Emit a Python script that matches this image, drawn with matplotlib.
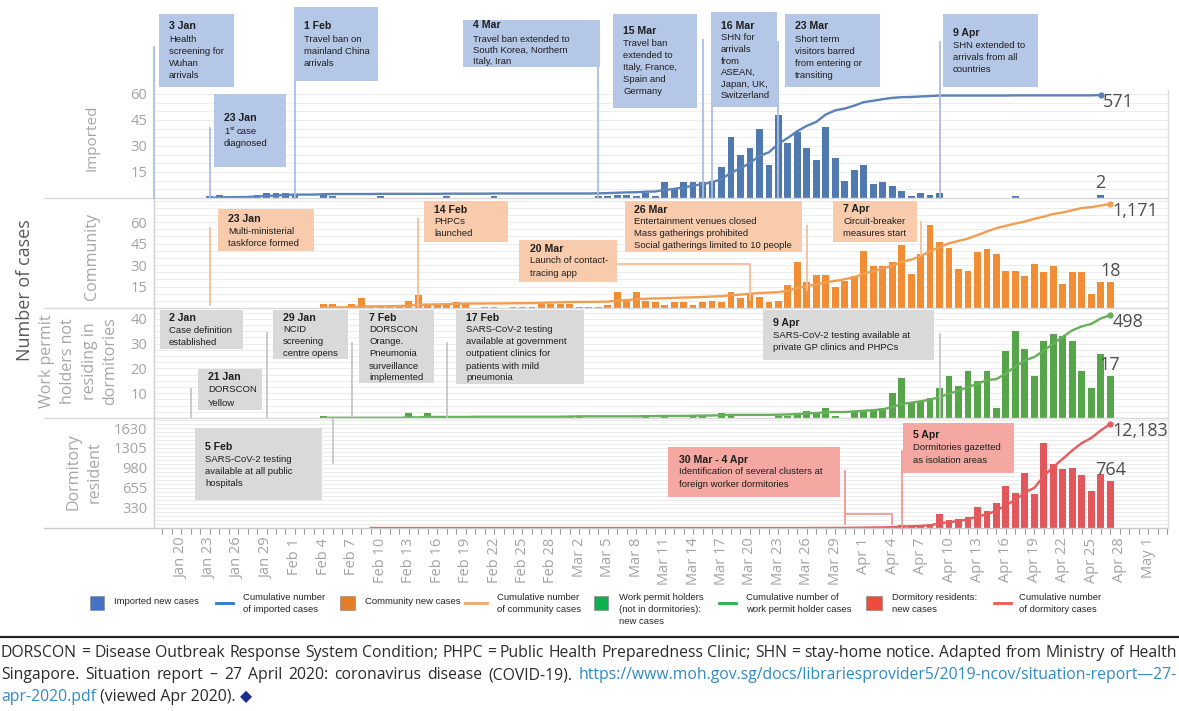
import numpy as np
import pandas as pd
import matplotlib
matplotlib.use('Agg')
import matplotlib.pyplot as plt
import matplotlib.dates as mdates
from matplotlib.patches import Rectangle
from matplotlib.lines import Line2D

# ---------------- data ----------------
imported_start = '2020-01-23'
imported_new = [
    1, 2, 1, 1, 1, 2, 3, 3, 3,                                   # Jan 23-31
    2, 0, 0, 2, 1, 0, 0, 0, 0, 1, 0, 0, 0, 0, 0, 0, 1, 0, 0, 0,  # Feb 1-20
    0, 1, 0, 0, 0, 0, 0, 0, 0,                                   # Feb 21-29
    0, 0, 0, 1, 1, 2, 2, 1, 3, 1, 9, 5, 9, 9, 9, 10,             # Mar 1-16
    18, 35, 25, 29, 40, 19, 48, 32, 38, 29, 22, 41, 23, 10, 16,  # Mar 17-31
    19, 8, 9, 7, 4, 1, 3, 2, 3, 0, 0, 0, 0, 0, 0, 0, 1,          # Apr 1-17
    0, 0, 0, 0, 0, 0, 0, 0, 2,                                   # Apr 18-26
]

community_start = '2020-02-04'
community_new = [
    3, 3, 1, 3, 7, 1, 1, 1, 2, 5, 9, 3, 2, 2, 4, 3, 0,           # Feb 4-20
    1, 1, 0, 1, 1, 1, 3, 3, 3,                                   # Feb 21-29
    3, 1, 1, 1, 2, 11, 5, 11, 5, 4, 2, 4, 4, 2, 4, 5,            # Mar 1-16
    4, 11, 7, 10, 8, 4, 5, 16, 32, 18, 23, 23, 15, 19, 22,       # Mar 17-31
    40, 29, 29, 32, 44, 24, 38, 58, 46, 42, 27, 26, 39, 41, 38,  # Apr 1-15
    26, 26, 22, 31, 25, 29, 17, 25, 25, 10, 18, 18,              # Apr 16-27
]

workpermit_start = '2020-02-04'
workpermit_new = [
    1, 0, 0, 0, 0, 0, 0, 0, 0, 2, 0, 2, 0, 0, 0, 0, 1,           # Feb 4-20
    0, 0, 0, 0, 0, 0, 0, 0, 0,                                   # Feb 21-29
    1, 1, 0, 0, 0, 0, 0, 0, 1, 0, 1, 0, 0, 1, 1, 0,              # Mar 1-16
    2, 1, 0, 0, 0, 0, 1, 1, 2, 3, 2, 4, 1, 0, 3,                 # Mar 17-31
    3, 3, 4, 10, 16, 6, 7, 8, 12, 17, 13, 19, 15, 19, 4,         # Apr 1-15
    27, 35, 28, 17, 31, 34, 33, 31, 19, 12, 26, 17,              # Apr 16-27
]

dormitory_start = '2020-02-09'
dormitory_new = [
    0, 0, 0, 0, 0, 0, 0, 0, 0, 0, 0,                             # Feb 9-19
    0, 0, 0, 0, 0, 0, 0, 0, 0, 0,                                # Feb 20-29
    0, 0, 0, 0, 0, 0, 0, 0, 0, 0, 0, 0, 0,                       # Mar 1-13
    0, 0, 0, 0, 0, 0, 0, 0, 0, 0, 0, 0,                          # Mar 14-25
    2, 3, 4, 5, 7, 9,                                            # Mar 26-31
    10, 15, 20, 30, 45, 45, 55, 65, 233, 130, 141, 184, 336, 271, 401,  # Apr 1-15
    689, 564, 900, 547, 1390, 1041, 965, 976, 862, 596, 878, 764,       # Apr 16-27
]

imported_yticks = [15, 30, 45, 60]
community_yticks = [15, 30, 45, 60]
workpermit_yticks = [10, 20, 30, 40]
dormitory_yticks = [330, 655, 980, 1305, 1630]

panel_labels = ['Imported', 'Community',
                'Work permit\nholders not\nresiding in\ndormitories',
                'Dormitory\nresident']

xtick_first, xtick_last = '2020-01-20', '2020-05-01'

# ---------------- figure ----------------
W, H = 1179, 711
plt.rcParams['font.family'] = ['Open Sans', 'DejaVu Sans']
BOXF = ['Liberation Sans', 'DejaVu Sans']
fig = plt.figure(figsize=(W / 100, H / 100), dpi=100)
fig.patch.set_facecolor('white')


def fx(x):
    return x / W


def fy(y):
    return 1 - y / H


def ftext(x, y, s, **kw):
    return fig.text(fx(x), fy(y), s, **kw)


def fline(xs, ys, **kw):
    fig.add_artist(Line2D([fx(v) for v in xs], [fy(v) for v in ys],
                          transform=fig.transFigure, **kw))


AX_L, AX_R = 154, 1168
day0 = mdates.date2num(pd.Timestamp('2020-01-20'))
XLIM = (day0 - 2.87, day0 + 104.1)


def date_px(d):
    n = max(mdates.date2num(pd.Timestamp(d)), XLIM[0])
    return AX_L + (n - XLIM[0]) / (XLIM[1] - XLIM[0]) * (AX_R - AX_L)


panels = [
    dict(start=imported_start, vals=imported_new, top=90, bot=198, ymax=62.3, cmax=598.7,
         yticks=imported_yticks, grid=5, bar='#4F79AF', line='#5A82B8'),
    dict(start=community_start, vals=community_new, top=198, bot=308, ymax=76.8, cmax=1238,
         yticks=community_yticks, grid=5, bar='#F08D35', line='#F29E50'),
    dict(start=workpermit_start, vals=workpermit_new, top=308, bot=418, ymax=44.4, cmax=532,
         yticks=workpermit_yticks, grid=2.5, bar='#56A54A', line='#68B05C'),
    dict(start=dormitory_start, vals=dormitory_new, top=418, bot=528, ymax=1793, cmax=12885,
         yticks=dormitory_yticks, grid=65, bar='#E2575B', line='#E65A5C'),
]

axes = []
for i, p in enumerate(panels):
    rect = [fx(AX_L), fy(p['bot']), fx(AX_R) - fx(AX_L), fy(p['top']) - fy(p['bot'])]
    ax = fig.add_axes(rect)
    x = mdates.date2num(pd.date_range(p['start'], periods=len(p['vals'])))
    v = np.array(p['vals'])
    ax.bar(x, v, width=0.72, color=p['bar'], zorder=3)
    ax.set_xlim(*XLIM)
    ax.set_ylim(0, p['ymax'])
    ax.set_yticks(p['yticks'])
    ax.set_yticks(np.arange(p['grid'], p['ymax'], p['grid']), minor=True)
    ax.grid(True, axis='y', which='both', color='#ECECEC', lw=0.7, zorder=0)
    ax.set_axisbelow(True)
    ax.tick_params(axis='y', which='both', length=0, pad=5, labelsize=10.5,
                   labelcolor='#A3A3A3')
    for s in ax.spines.values():
        s.set_visible(False)
    ax.patch.set_visible(False)
    # bar label on last bar
    ax.annotate(f'{v[-1]:,}', xy=(x[-1], v[-1]), xytext=(0, 8), textcoords='offset points',
                ha='center', va='center', fontsize=13, color='#4D4D4D', zorder=8)
    # cumulative line
    ax2 = fig.add_axes(rect, sharex=ax)
    ax2.set_axis_off()
    cum = np.cumsum(v)
    ax2.set_ylim(0, p['cmax'])
    ax2.plot(x, cum, color=p['line'], lw=1.7, zorder=4)
    ax2.plot(x[-1:], cum[-1:], 'o', color=p['line'], ms=3.5)
    ax2.annotate(f'{cum[-1]:,}', xy=(x[-1], cum[-1]), xytext=(1.5, -5), textcoords='offset points',
                 ha='left', va='center', fontsize=13, color='#4D4D4D')
    if i < 3:
        ax.tick_params(axis='x', which='both', bottom=False, labelbottom=False)
    axes.append(ax)

# x axis on bottom panel
axb = axes[-1]
tick_dates = pd.date_range(xtick_first, xtick_last, freq='3D')
axb.set_xticks(mdates.date2num(tick_dates))
axb.set_xticklabels([d.strftime('%b ') + str(d.day) for d in tick_dates], rotation=90)
axb.set_xticks(np.arange(np.ceil(XLIM[0]), XLIM[1]), minor=True)
axb.tick_params(axis='x', which='both', length=4, width=0.8, color='#9A9A9A', pad=3,
                labelsize=10.5, labelcolor='#A3A3A3', direction='out')
axb.set_xlim(*XLIM)

# panel frames / separators
for yy in (198, 308, 418):
    fline([44, AX_R], [yy, yy], color='#D9D9D9', lw=1)
fline([44, AX_R], [528, 528], color='#C8C8C8', lw=1)
fline([AX_L, AX_L], [198, 528], color='#D0D0D0', lw=1)
fline([AX_R, AX_R], [90, 528], color='#DDDDDD', lw=1)

# panel labels
lab_pos = [(92, 138, 11, 1.2), (92, 256, 11.5, 1.2), (79, 361, 11.5, 1.42), (84, 472, 11.5, 1.42)]
for (lx, ly, fs, lsp), lab in zip(lab_pos, panel_labels):
    ftext(lx, ly, lab, rotation=90, ha='center', va='center', fontsize=fs,
          color='#A6A6A6', linespacing=lsp, multialignment='center')
ftext(25, 290, 'Number of cases', rotation=90, ha='center', va='center',
      fontsize=13, color='#595959')

# ---------------- annotations ----------------
STY = {
    'imp': dict(box='#B4C7E7', line='#A9BEE0'),
    'com': dict(box='#F8CBAD', line='#F6BE98'),
    'grey': dict(box='#D9D9D9', line='#C6C6C6'),
    'dorm': dict(box='#F5A7A1', line='#F29A93'),
}

annotations = [
    ('imp', (159, 14, 234, 87), (169, 26), '3 Jan', ['Health', 'screening for', 'Wuhan', 'arrivals'], 13, 12, [('2020-01-03', 47, 198)]),
    ('imp', (214, 94, 286, 167), (224, 118), '23 Jan', ['1^st case', 'diagnosed'], 14, 12, [('2020-01-23', 128, 198)]),
    ('imp', (294, 7, 378, 81), (304, 26), '1 Feb', ['Travel ban on', 'mainland China', 'arrivals'], 13, 12, [('2020-02-01', 42, 198)]),
    ('imp', (463, 20, 600, 67), (473, 25), '4 Mar', ['Travel ban extended to', 'South Korea, Northern', 'Italy, Iran'], 14, 11.5, [('2020-03-04', 38, 198)]),
    ('imp', (613, 14, 697, 108), (623, 31), '15 Mar', ['Travel ban', 'extended to', 'Italy, France,', 'Spain and', 'Germany'], 13, 12, [('2020-03-15', 40, 198)]),
    ('imp', (711, 12, 777, 107), (721, 26), '16 Mar', ['SHN for', 'arrivals', 'from', 'ASEAN,', 'Japan, UK,', 'Switzerland'], 12, 11.6, [('2020-03-16', 40, 198)]),
    ('imp', (785, 14, 880, 87), (795, 26), '23 Mar', ['Short term', 'visitors barred', 'from entering or', 'transiting'], 13, 12, [('2020-03-23', 42, 198)]),
    ('imp', (943, 14, 1038, 87), (953, 33), '9 Apr', ['SHN extended to', 'arrivals from all', 'countries'], 13, 12, [('2020-04-09', 42, 198)]),
    ('com', (218, 209, 314, 251), (228, 219), '23 Jan', ['Multi-ministerial', 'taskforce formed'], 12, 12, [('2020-01-23', 228, 305)]),
    ('com', (424, 201, 508, 242), (434, 210), '14 Feb', ['PHPCs', 'launched'], 12, 12, [('2020-02-14', 219, 308)]),
    ('com', (519, 240, 617, 282), (530, 249), '20 Mar', ['Launch of contact-', 'tracing app'], 12, 12, []),
    ('com', (625, 201, 802, 252), (634, 210), '26 Mar', ['Entertainment venues closed', 'Mass gatherings prohibited', 'Social gatherings limited to 10 people'], 12, 12, [('2020-03-26', 226, 290)]),
    ('com', (833, 201, 917, 242), (843, 209), '7 Apr', ['Circuit-breaker', 'measures start'], 13, 12, [('2020-04-07', 222, 255)]),
    ('grey', (160, 310, 243, 349), (169, 318), '2 Jan', ['Case definition', 'established'], 13, 11.5, []),
    ('grey', (198, 369, 262, 410), (208, 377), '21 Jan', ['DORSCON', 'Yellow'], 13, 13, [('2020-01-21', 389, 417)]),
    ('grey', (273, 310, 348, 359), (283, 318), '29 Jan', ['NCID', 'screening', 'centre opens'], 12, 12, [('2020-01-29', 333, 417)]),
    ('grey', (359, 310, 434, 383), (369, 318), '7 Feb', ['DORSCON', 'Orange.', 'Pneumonia', 'surveillance', 'implemented'], 12, 12, [('2020-02-07', 343, 417)]),
    ('grey', (456, 310, 584, 384), (466, 318), '17 Feb', ['SARS-CoV-2 testing', 'available at government', 'outpatient clinics for', 'patients with mild', 'pneumonia'], 12, 12, [('2020-02-17', 343, 417)]),
    ('grey', (763, 310, 934, 360), (773, 323), '9 Apr', ['SARS-CoV-2 testing available at', 'private GP clinics and PHPCs'], 13, 12, [('2020-04-09', 334, 417)]),
    ('grey', (195, 428, 322, 500), (205, 447), '5 Feb', ['SARS-CoV-2 testing', 'available at all public', 'hospitals'], 12, 12, [('2020-02-05', 419, 463)]),
    ('dorm', (668, 447, 840, 497), (679, 460), '30 Mar - 4 Apr', ['Identification of several clusters at', 'foreign worker dormitories'], 12, 12.5, []),
    ('dorm', (903, 423, 1014, 473), (913, 435), '5 Apr', ['Dormitories gazetted', 'as isolation areas'], 13, 12.5, [('2020-04-05', 451, 528)]),
]

renderer = fig.canvas.get_renderer()
TXT = '#1E1E1E'
BODY_FS, HDR_FS = 6.8, 7.6
for sty, (bx0, by0, bx1, by1), (hx, hy), hdr, body, off, step, lines in annotations:
    st = STY[sty]
    for d, ly0, ly1 in lines:
        xp = date_px(d)
        fline([xp, xp], [ly0, ly1], color=st['line'], lw=1.3, zorder=2)
    fig.add_artist(Rectangle((fx(bx0), fy(by1)), fx(bx1) - fx(bx0), fy(by0) - fy(by1),
                             transform=fig.transFigure, facecolor=st['box'],
                             edgecolor='none', zorder=5))
    ftext(hx, hy, hdr, fontsize=HDR_FS, fontweight='bold', family=BOXF, color=TXT,
          ha='left', va='center', zorder=7)
    for k, ln in enumerate(body):
        yy = hy + off + step * k
        if '^' in ln:
            pre, rest = ln.split('^')
            sup, post = rest.split(' ', 1)
            t1 = ftext(hx, yy, pre, fontsize=BODY_FS, family=BOXF, color=TXT, ha='left', va='center', zorder=7)
            w1 = t1.get_window_extent(renderer).width
            t2 = ftext(hx + w1 + 0.3, yy - 3, sup, fontsize=4.6, family=BOXF, color=TXT, ha='left', va='center', zorder=7)
            w2 = t2.get_window_extent(renderer).width
            ftext(hx + w1 + w2 + 2.5, yy, post, fontsize=BODY_FS, family=BOXF, color=TXT, ha='left', va='center', zorder=7)
        else:
            ftext(hx, yy, ln, fontsize=BODY_FS, family=BOXF, color=TXT, ha='left', va='center', zorder=7)

# elbow connector for 20 Mar, bracket for 30 Mar - 4 Apr
x20 = date_px('2020-03-20')
fline([617, x20, x20], [264, 264, 300], color=STY['com']['line'], lw=1.3, zorder=2)
x30, x04 = date_px('2020-03-30'), date_px('2020-04-04')
fline([x30, x30], [471, 524], color=STY['dorm']['line'], lw=1.3, zorder=2)
fline([x30, x04, x04], [514, 514, 524], color=STY['dorm']['line'], lw=1.3, zorder=2)

# ---------------- legend ----------------
legend_items = [
    ('sq', '#4472C4', 90, 104, ['Imported new cases'], 114),
    ('ln', '#2E75D0', 216, 233, ['Cumulative number', 'of imported cases'], 243),
    ('sq', '#E27D2A', 340, 355, ['Community new cases'], 365),
    ('ln', '#F4A666', 465, 487, ['Cumulative number', 'of community cases'], 497),
    ('sq', '#0FAF4F', 594, 608, ['Work permit holders', '(not in dormitories):', 'new cases'], 619),
    ('ln', '#22B24C', 719, 736, ['Cumulative number of', 'work permit holder cases'], 746),
    ('sq', '#EE4B3E', 866, 882, ['Dormitory residents:', 'new cases'], 892),
    ('ln', '#F2594F', 994, 1011, ['Cumulative number', 'of dormitory cases'], 1019),
]
LEG_FS = 6.8
for kind, col, x0, x1, lines, tx in legend_items:
    if kind == 'sq':
        fig.add_artist(Rectangle((fx(x0), fy(610)), fx(x1) - fx(x0), fy(596) - fy(610),
                                 transform=fig.transFigure, facecolor=col,
                                 edgecolor='#7F7F7F', lw=0.4))
    else:
        fline([x0, x1], [603, 603], color=col, lw=2)
    if len(lines) == 1:
        ftext(tx, 602, lines[0], fontsize=LEG_FS, family=BOXF, color='#262626', va='center')
    else:
        for k, ln in enumerate(lines):
            ftext(tx, 597 + 12 * k, ln, fontsize=LEG_FS, family=BOXF, color='#262626', va='center')

# ---------------- footer ----------------
fline([0, W], [637, 637], color='#262626', lw=1.6)
FOOT = dict(fontsize=11.3, family=['Open Sans', 'DejaVu Sans'], va='center', ha='left')
BLK, BLU = '#2B2B2B', '#2E8BC4'


def justify(words, x0, x1, y):
    ts, ws = [], []
    for w, c in words:
        t = ftext(0, y, w, color=c, **FOOT)
        ts.append(t)
        ws.append(t.get_window_extent(renderer).width)
    gap = (x1 - x0 - sum(ws)) / max(len(ws) - 1, 1)
    gap = max(gap, 2)
    xx = x0
    for t, w in zip(ts, ws):
        t.set_x(fx(xx))
        xx += w + gap


line1 = ('DORSCON = Disease Outbreak Response System Condition; PHPC = Public Health '
         'Preparedness Clinic; SHN = stay-home notice. Adapted from Ministry of Health')
justify([(w, BLK) for w in line1.split(' ')], 1, 1177, 653)
line2 = 'Singapore. Situation report – 27 April 2020: coronavirus disease (COVID-19).'
url = 'https://www.moh.gov.sg/docs/librariesprovider5/2019-ncov/situation-report—27-'
justify([(w, BLK) for w in line2.split(' ')] + [(url, BLU)], 1, 1177, 675)
xx = 1
for s, c in [('apr-2020.pdf', BLU), (' (viewed Apr 2020). ', BLK), ('◆', '#1F2E8C')]:
    t = ftext(xx, 697, s, color=c, **FOOT)
    xx += t.get_window_extent(renderer).width

fig.savefig('out.png', dpi=100, facecolor='white')
